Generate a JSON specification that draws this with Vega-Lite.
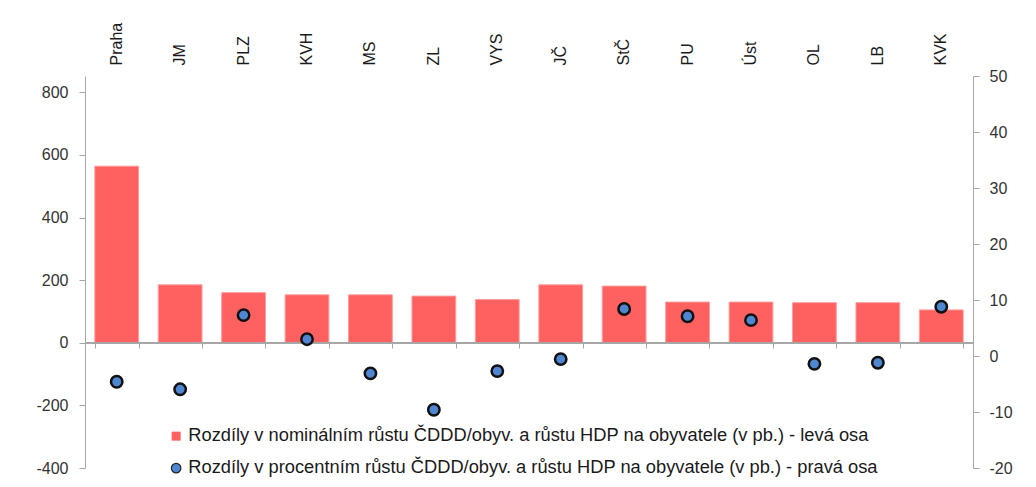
{
  "$schema": "https://vega.github.io/schema/vega-lite/v6.json",
  "width": 888,
  "height": 392,
  "autosize": {"type": "none"},
  "padding": {"left": 85, "top": 76, "right": 63, "bottom": 19},
  "background": "white",
  "config": {
    "view": {"stroke": null},
    "font": "Liberation Sans",
    "axis": {"labelFont": "Liberation Sans", "labelFontSize": 16, "labelColor": "#333333", "domainColor": "#A6A6A6", "tickColor": "#A6A6A6", "grid": false, "title": null}
  },
  "data": {
    "values": [
      {"region": "Praha", "nominal": 564, "percent": -4.6},
      {"region": "JM", "nominal": 185, "percent": -5.95},
      {"region": "PLZ", "nominal": 160, "percent": 7.3},
      {"region": "KVH", "nominal": 153, "percent": 3.0},
      {"region": "MS", "nominal": 153, "percent": -3.1},
      {"region": "ZL", "nominal": 149, "percent": -9.6},
      {"region": "VYS", "nominal": 138, "percent": -2.7},
      {"region": "JČ", "nominal": 185, "percent": -0.55},
      {"region": "StČ", "nominal": 181, "percent": 8.4},
      {"region": "PU", "nominal": 130, "percent": 7.1},
      {"region": "Úst", "nominal": 130, "percent": 6.4},
      {"region": "OL", "nominal": 128, "percent": -1.4},
      {"region": "LB", "nominal": 128, "percent": -1.2},
      {"region": "KVK", "nominal": 105, "percent": 8.8}
    ]
  },
  "layer": [
    {
      "layer": [
        {
          "mark": {"type": "bar", "color": "#FF6161", "stroke": "#FF9C9C", "strokeWidth": 1},
          "encoding": {
            "x": {
              "field": "region", "type": "nominal", "sort": null,
              "scale": {"paddingInner": 0.31, "paddingOuter": 0.155},
              "axis": {"orient": "top", "title": null, "labelAngle": -90, "labelAlign": "left", "labelBaseline": "middle", "labelPadding": 11, "ticks": false, "domain": false, "labelFontSize": 16, "labelColor": "#1a1a1a"}
            },
            "y": {
              "field": "nominal", "type": "quantitative",
              "scale": {"domain": [-400, 852], "nice": false, "zero": false},
              "axis": {"orient": "left", "values": [-400, -200, 0, 200, 400, 600, 800], "tickSize": 6, "labelPadding": 11, "title": null, "labelExpr": "replace(datum.label, '−', '-')"}
            },
            "color": {
              "datum": "Rozdíly v nominálním růstu ČDDD/obyv. a růstu HDP na obyvatele (v pb.) - levá osa",
              "scale": {"range": ["#FF6161"]},
              "legend": {"orient": "none", "legendX": 82, "legendY": 351, "title": null, "symbolType": "square", "symbolSize": 81, "symbolStrokeWidth": 0, "labelFontSize": 18.3, "labelColor": "#1a1a1a", "labelOffset": 3, "labelLimit": 900, "padding": 0}
            }
          }
        },
        {
          "mark": {"type": "rule", "color": "#A6A6A6", "strokeWidth": 1},
          "encoding": {"y": {"datum": 0}}
        }
      ]
    },
    {
      "mark": {"type": "point", "filled": true, "shape": "circle", "size": 130, "stroke": "#111111", "strokeWidth": 2.5, "opacity": 1},
      "encoding": {
        "x": {
          "field": "region", "type": "nominal", "sort": null,
          "axis": {"orient": "bottom", "offset": -125, "labels": false, "title": null, "domain": false, "ticks": true, "tickBand": "extent", "tickSize": 5}
        },
        "y": {
          "field": "percent", "type": "quantitative",
          "scale": {"domain": [-20, 50], "nice": false, "zero": false},
          "axis": {"orient": "right", "values": [-20, -10, 0, 10, 20, 30, 40, 50], "tickSize": 6, "labelPadding": 10, "title": null, "labelExpr": "replace(datum.label, '−', '-')"}
        },
        "color": {
          "datum": "Rozdíly v procentním růstu ČDDD/obyv. a růstu HDP na obyvatele (v pb.) - pravá osa",
          "scale": {"range": ["#4F86D2"]},
          "legend": {"orient": "none", "legendX": 82, "legendY": 383, "title": null, "symbolType": "circle", "symbolSize": 90, "symbolStrokeColor": "#222222", "symbolStrokeWidth": 1.2, "labelFontSize": 18.3, "labelColor": "#1a1a1a", "labelOffset": 3, "labelLimit": 900, "padding": 0}
        }
      }
    }
  ],
  "resolve": {"scale": {"y": "independent", "color": "independent"}, "axis": {"x": "independent"}}
}
